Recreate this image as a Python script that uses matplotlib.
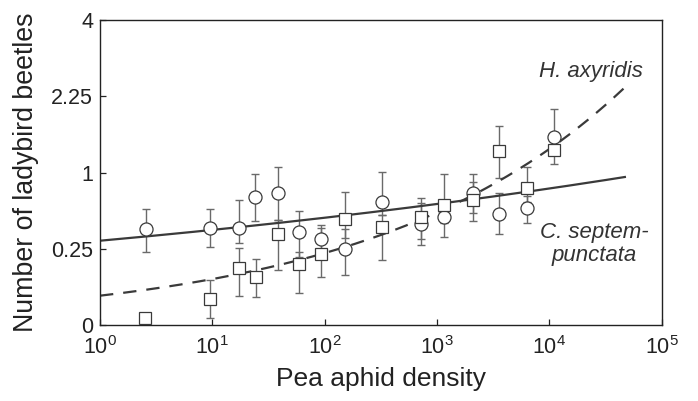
import numpy as np
import matplotlib
matplotlib.use("Agg")
import matplotlib.pyplot as plt
from matplotlib.ticker import FixedLocator, NullLocator, LogFormatterMathtext

plt.rcParams['font.family'] = ['Liberation Sans', 'DejaVu Sans']
plt.rcParams['mathtext.default'] = 'regular'

# C. septempunctata (circles)
cs_x = [2.55, 9.6, 17.3, 24.2, 38.2, 59.2, 92.9, 152, 324, 722, 1164, 2084, 3573, 6345, 11100]
cs_y = [0.398, 0.409, 0.404, 0.703, 0.755, 0.376, 0.322, 0.248, 0.656, 0.440, 0.506, 0.755, 0.529, 0.587, 1.526]
cs_hi = [0.584, 0.584, 0.674, 0.982, 1.071, 0.562, 0.432, 0.40, 1.012, 0.639, 0.62, 0.982, 0.748, 0.72, 2.008]
cs_lo = [0.232, 0.263, 0.293, 0.467, 0.476, 0.20, 0.25, 0.109, 0.52, 0.277, 0.337, 0.54, 0.355, 0.446, 1.35]

# H. axyridis (squares)
ha_x = [2.53, 9.6, 17.3, 24.7, 38.5, 59.2, 92.9, 152, 324, 722, 1164, 2084, 3573, 6345, 11100]
ha_y = [0.002, 0.030, 0.139, 0.099, 0.358, 0.160, 0.220, 0.485, 0.412, 0.506, 0.621, 0.674, 1.298, 0.805, 1.319]
ha_hi = [0.002, 0.088, 0.254, 0.189, 0.476, 0.23, 0.404, 0.766, 0.52, 0.692, 0.982, 0.88, 1.706, 1.080, 1.45]
ha_lo = [0.002, 0.002, 0.038, 0.034, 0.131, 0.046, 0.099, 0.33, 0.183, 0.317, 0.45, 0.470, 0.935, 0.65, 1.112]

# fitted curves (y = a * x^b)
cs_fit = (0.307, 0.1044)
ha_fit = (0.0376, 0.3875)

y_ticks = [0, 0.25, 1, 2.25, 4]
y_labels = ['0', '0.25', '1', '2.25', '4']

line_col = '#3a3a3a'
err_col = '#6a6a6a'

W, H = 698, 401
fig = plt.figure(figsize=(W / 100, H / 100), dpi=100)
ax = fig.add_axes([0.1433, 0.1888, 0.8047, 0.7613])

ax.set_xscale('log')
ax.set_yscale('function', functions=(lambda v: np.sqrt(np.clip(v, 0, None)), lambda v: v ** 2))
ax.set_xlim(1, 1e5)
ax.set_ylim(0, 4)

xf = np.logspace(0, np.log10(47000), 300)
ax.plot(xf, cs_fit[0] * xf ** cs_fit[1], color=line_col, lw=1.6, zorder=2)
ax.plot(xf, ha_fit[0] * xf ** ha_fit[1], color=line_col, lw=1.6, dashes=(6, 4.5), zorder=2)

for x, y, hi, lo, mk in [(cs_x, cs_y, cs_hi, cs_lo, 'o'), (ha_x, ha_y, ha_hi, ha_lo, 's')]:
    y = np.array(y)
    yerr = [y - np.array(lo), np.array(hi) - y]
    ax.errorbar(x, y, yerr=yerr, fmt='none', ecolor=err_col, elinewidth=1.0,
                capsize=2.9, capthick=1.0, zorder=1)
    ax.plot(x, y, mk, ms=9.4 if mk == 'o' else 9.0, mfc='white', mec=line_col,
            mew=0.9, zorder=3, clip_on=False)

ax.xaxis.set_major_locator(FixedLocator([1, 10, 100, 1e3, 1e4, 1e5]))
ax.xaxis.set_major_formatter(LogFormatterMathtext())
ax.xaxis.set_minor_locator(NullLocator())
ax.yaxis.set_major_locator(FixedLocator(y_ticks))
ax.set_yticklabels(y_labels)
ax.yaxis.set_minor_locator(NullLocator())

ax.tick_params(direction='in', length=4.5, width=0.9, labelsize=15.5, colors='#222222', pad=5)
ax.tick_params(axis='x', pad=7.5)
for s in ax.spines.values():
    s.set_linewidth(1.0)
    s.set_color('#222222')

ax.set_xlabel('Pea aphid density', fontsize=19, color='#222222', labelpad=6)
ax.set_ylabel('Number of ladybird beetles', fontsize=19.3, color='#222222', labelpad=9)

# species labels placed in figure pixel coordinates (from top-left)
fig.text(591 / W, 1 - 72 / H, 'H. axyridis', fontsize=16, style='italic',
         color='#333333', ha='center', va='center')
fig.text(594 / W, 1 - 244 / H, 'C. septem-\npunctata', fontsize=16, style='italic',
         color='#333333', ha='center', va='center', linespacing=1.1)

fig.savefig('out.png', dpi=100)
